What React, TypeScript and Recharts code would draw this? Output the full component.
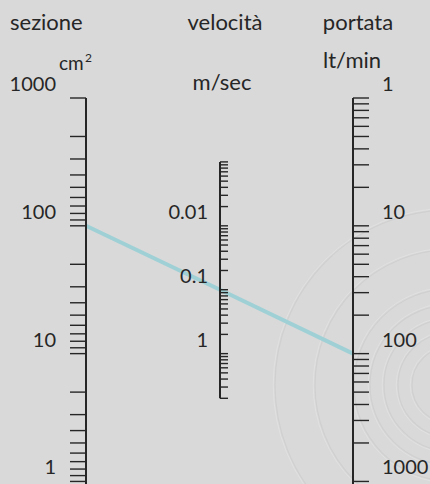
import React from "react";
import {
  ComposedChart,
  Line,
  ReferenceDot,
  ReferenceLine,
  XAxis,
  YAxis,
} from "recharts";

// scale labels
const sezioneLabels = [1000, 100, 10, 1]; // cm²
const velocitaLabels = [0.01, 0.1, 1]; // m/sec
const portataLabels = [1, 10, 100, 1000]; // lt/min

// scale ranges (first / last tick)
const sezioneRange = [1, 1000];
const velocitaRange = [0.001, 5];
const portataRange = [1, 1000];

// tick marks are drawn at decade / step
const decades = [0.001, 0.01, 0.1, 1, 10, 100, 1000];
const steps = [1, 2, 3, 4, 5, 6, 7, 8, 9];

// example reading drawn on the nomogram
const reading = { sezione: 100, velocita: 0.1, portata: 100 };

// nomogram position (in decades from the top of the sezione/portata scales)
const posSez = (v: number) => 3 - Math.log10(v);
const posVel = (v: number) => (Math.log10(v) + 4) / 2;
const posPort = (v: number) => Math.log10(v);

const COL_SEZ = 86;
const COL_VEL = 220;
const COL_PORT = 353;
const Y_MAX = 3.02;

const INK = "#262626";
const FONT = "Lato, 'Open Sans', sans-serif";

const ticksIn = ([min, max]: number[]) => {
  const out: number[] = [];
  decades.forEach((d) =>
    steps.forEach((n) => {
      const v = d / n;
      if (v >= min * 0.999 && v <= max * 1.001) out.push(v);
    })
  );
  return out;
};

const lineData = [
  { x: COL_SEZ, pos: posSez(reading.sezione) },
  { x: COL_VEL, pos: posVel(reading.velocita) },
  { x: COL_PORT, pos: posPort(reading.portata) },
];

const labelShape =
  (text: string, dx: number, anchor: "start" | "end") => (props: any) =>
    (
      <text
        x={props.cx + dx}
        y={props.cy - 15}
        textAnchor={anchor}
        dominantBaseline="central"
        fontFamily={FONT}
        fontSize={20}
        fill={INK}
      >
        {text}
      </text>
    );

function tickLines(
  ticks: number[],
  pos: (v: number) => number,
  x0: number,
  x1: number,
  key: string
) {
  return ticks.map((v) => (
    <ReferenceLine
      key={key + v}
      segment={[
        { x: x0, y: pos(v) },
        { x: x1, y: pos(v) },
      ]}
      stroke={INK}
      strokeWidth={1.4}
      ifOverflow="visible"
    />
  ));
}

// faint embossed ripple in the background
function Rings() {
  const radii = [38, 52, 66, 80, 96, 135, 175];
  return (
    <svg
      width={430}
      height={484}
      style={{ position: "absolute", left: 0, top: 0 }}
    >
      {radii.map((r) => (
        <g key={r}>
          <circle cx={450} cy={385} r={r} fill="none" stroke="#d0d0d0" strokeWidth={1.2} />
          <circle cx={450} cy={385} r={r + 1.8} fill="none" stroke="#e1e1e1" strokeWidth={1} />
        </g>
      ))}
    </svg>
  );
}

function Titles() {
  const t = { fontFamily: FONT, fontSize: 22, fill: INK };
  return (
    <svg
      width={430}
      height={484}
      style={{ position: "absolute", left: 0, top: 0, pointerEvents: "none" }}
    >
      <text x={10} y={30} {...t}>sezione</text>
      <text x={225} y={30} textAnchor="middle" {...t}>velocità</text>
      <text x={358} y={30} textAnchor="middle" {...t}>portata</text>
      <text x={59} y={70} {...t} fontSize={19}>cm</text>
      <text x={85} y={62} {...t} fontSize={12}>2</text>
      <text x={222} y={90} textAnchor="middle" {...t}>m/sec</text>
      <text x={323} y={68} {...t}>lt/min</text>
    </svg>
  );
}

export default function App() {
  return (
    <div
      style={{
        position: "relative",
        width: 430,
        height: 484,
        background: "#d9d9d9",
        overflow: "hidden",
      }}
    >
      <style>{"body{margin:0;background:#d9d9d9}"}</style>
      <Rings />
      <div style={{ position: "absolute", left: 0, top: 0 }}>
        <ComposedChart
          width={430}
          height={484}
          data={lineData}
          margin={{ top: 98, right: 0, bottom: 0, left: 0 }}
        >
          <XAxis type="number" dataKey="x" domain={[0, 430]} hide />
          <YAxis type="number" domain={[0, Y_MAX]} reversed hide />
          <Line
            dataKey="pos"
            stroke="#9fd0d6"
            strokeWidth={4}
            dot={false}
            isAnimationActive={false}
          />

          {/* sezione */}
          <ReferenceLine
            segment={[
              { x: COL_SEZ, y: posSez(sezioneRange[1]) },
              { x: COL_SEZ, y: Y_MAX },
            ]}
            stroke={INK}
            strokeWidth={2}
            ifOverflow="visible"
          />
          {tickLines(ticksIn(sezioneRange), posSez, COL_SEZ - 16, COL_SEZ, "s")}
          {sezioneLabels.map((v) => (
            <ReferenceDot
              key={"sl" + v}
              x={COL_SEZ}
              y={posSez(v)}
              ifOverflow="visible"
              shape={labelShape(String(v), -30, "end")}
            />
          ))}

          {/* velocita */}
          <ReferenceLine
            segment={[
              { x: COL_VEL, y: posVel(velocitaRange[0]) },
              { x: COL_VEL, y: posVel(velocitaRange[1]) },
            ]}
            stroke={INK}
            strokeWidth={2}
            ifOverflow="visible"
          />
          {tickLines(ticksIn(velocitaRange), posVel, COL_VEL, COL_VEL + 8, "v")}
          {velocitaLabels.map((v) => (
            <ReferenceDot
              key={"vl" + v}
              x={COL_VEL}
              y={posVel(v)}
              ifOverflow="visible"
              shape={labelShape(String(v), -12, "end")}
            />
          ))}

          {/* portata */}
          <ReferenceLine
            segment={[
              { x: COL_PORT, y: posPort(portataRange[0]) },
              { x: COL_PORT, y: Y_MAX },
            ]}
            stroke={INK}
            strokeWidth={2}
            ifOverflow="visible"
          />
          {tickLines(ticksIn(portataRange), posPort, COL_PORT, COL_PORT + 16, "p")}
          {portataLabels.map((v) => (
            <ReferenceDot
              key={"pl" + v}
              x={COL_PORT}
              y={posPort(v)}
              ifOverflow="visible"
              shape={labelShape(String(v), 29, "start")}
            />
          ))}
        </ComposedChart>
      </div>
      <Titles />
    </div>
  );
}
